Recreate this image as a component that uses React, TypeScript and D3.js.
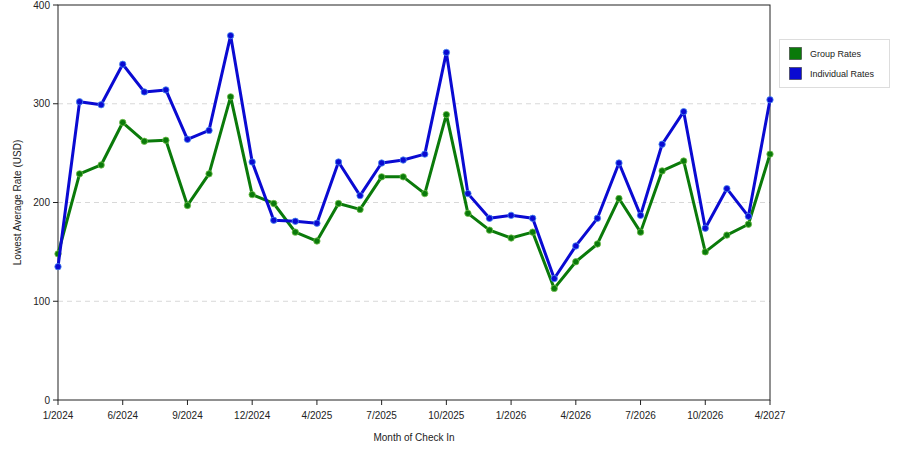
import React from "react";
import * as d3 from "d3";

const months = [
  "1/2024", "3/2024", "4/2024", "6/2024", "7/2024", "8/2024", "9/2024", "10/2024", "11/2024",
  "12/2024", "1/2025", "3/2025", "4/2025", "5/2025", "6/2025", "7/2025", "8/2025", "9/2025",
  "10/2025", "11/2025", "12/2025", "1/2026", "2/2026", "3/2026", "4/2026", "5/2026", "6/2026",
  "7/2026", "8/2026", "9/2026", "10/2026", "12/2026", "2/2027", "4/2027",
];

const groupRates = [
  148, 229, 238, 281, 262, 263, 197, 229, 307, 208, 199, 170, 161, 199, 193, 226, 226, 209,
  289, 189, 172, 164, 170, 113, 140, 158, 204, 170, 232, 242, 150, 167, 178, 249,
];

const individualRates = [
  135, 302, 299, 340, 312, 314, 264, 273, 369, 241, 182, 181, 179, 241, 207, 240, 243, 249,
  352, 209, 184, 187, 184, 123, 156, 184, 240, 187, 259, 292, 174, 214, 186, 304,
];

const tickLabels = [
  "1/2024", "6/2024", "9/2024", "12/2024", "4/2025", "7/2025", "10/2025", "1/2026",
  "4/2026", "7/2026", "10/2026", "4/2027",
];

const yTicks = [0, 100, 200, 300, 400];

const series = [
  { name: "Group Rates", values: groupRates, color: "#0a7a0a", light: "#6fbf4a" },
  { name: "Individual Rates", values: individualRates, color: "#0a0ad2", light: "#4a8cf0" },
];

export default function App() {
  const W = 900;
  const H = 450;
  const left = 58;
  const right = 770;
  const top = 5;
  const bottom = 400;
  const font = "'Liberation Sans', Arial, sans-serif";

  const x = d3.scalePoint<string>().domain(months).range([left, right]);
  const y = d3.scaleLinear().domain([0, 400]).range([bottom, top]);

  const line = d3
    .line<number>()
    .x((_, i) => x(months[i]) as number)
    .y((d) => y(d));

  return (
    <svg width={W} height={H} style={{ position: "absolute", left: 0, top: 0 }}>
      <rect x={0} y={0} width={W} height={H} fill="#fff" />
      {yTicks.slice(1, 4).map((t) => (
        <line
          key={"g" + t}
          x1={left}
          x2={right}
          y1={y(t)}
          y2={y(t)}
          stroke="#d8d8d8"
          strokeDasharray="5,4"
        />
      ))}
      <rect x={left} y={top} width={right - left} height={bottom - top} fill="none" stroke="#222" strokeWidth={1} />
      {yTicks.map((t) => (
        <g key={"y" + t}>
          <line x1={left - 5} x2={left} y1={y(t)} y2={y(t)} stroke="#222" />
          <text
            x={left - 8}
            y={y(t)}
            dy="0.35em"
            textAnchor="end"
            fontFamily={font}
            fontSize={10}
            fill="#222"
          >
            {t}
          </text>
        </g>
      ))}
      {tickLabels.map((lab) => (
        <g key={"x" + lab}>
          <line x1={x(lab)} x2={x(lab)} y1={bottom} y2={bottom + 5} stroke="#222" />
          <text
            x={x(lab)}
            y={bottom + 19}
            textAnchor="middle"
            fontFamily={font}
            fontSize={10}
            fill="#222"
          >
            {lab}
          </text>
        </g>
      ))}
      <text x={414} y={441} textAnchor="middle" fontFamily={font} fontSize={10} fill="#222">
        Month of Check In
      </text>
      <text
        transform={`translate(21,${(top + bottom) / 2}) rotate(-90)`}
        textAnchor="middle"
        fontFamily={font}
        fontSize={10}
        fill="#222"
      >
        Lowest Average Rate (USD)
      </text>
      {series.map((s) => (
        <g key={s.name}>
          <path d={line(s.values) || ""} fill="none" stroke={s.color} strokeWidth={3} strokeLinejoin="round" />
          {s.values.map((v, i) => (
            <circle
              key={i}
              cx={x(months[i])}
              cy={y(v)}
              r={3.2}
              fill={s.color}
              stroke={s.light}
              strokeWidth={1}
              strokeOpacity={0.8}
            />
          ))}
        </g>
      ))}
      <g>
        <rect x={779.5} y={39.5} width={110} height={48} fill="#fff" stroke="#ddd" />
        {series.map((s, i) => (
          <g key={"l" + s.name}>
            <rect x={789.5} y={47.5 + i * 20} width={12} height={12} fill={s.color} stroke="#333" strokeWidth={0.6} />
            <text x={810} y={57 + i * 20} fontFamily={font} fontSize={9} fill="#222">
              {s.name}
            </text>
          </g>
        ))}
      </g>
    </svg>
  );
}
